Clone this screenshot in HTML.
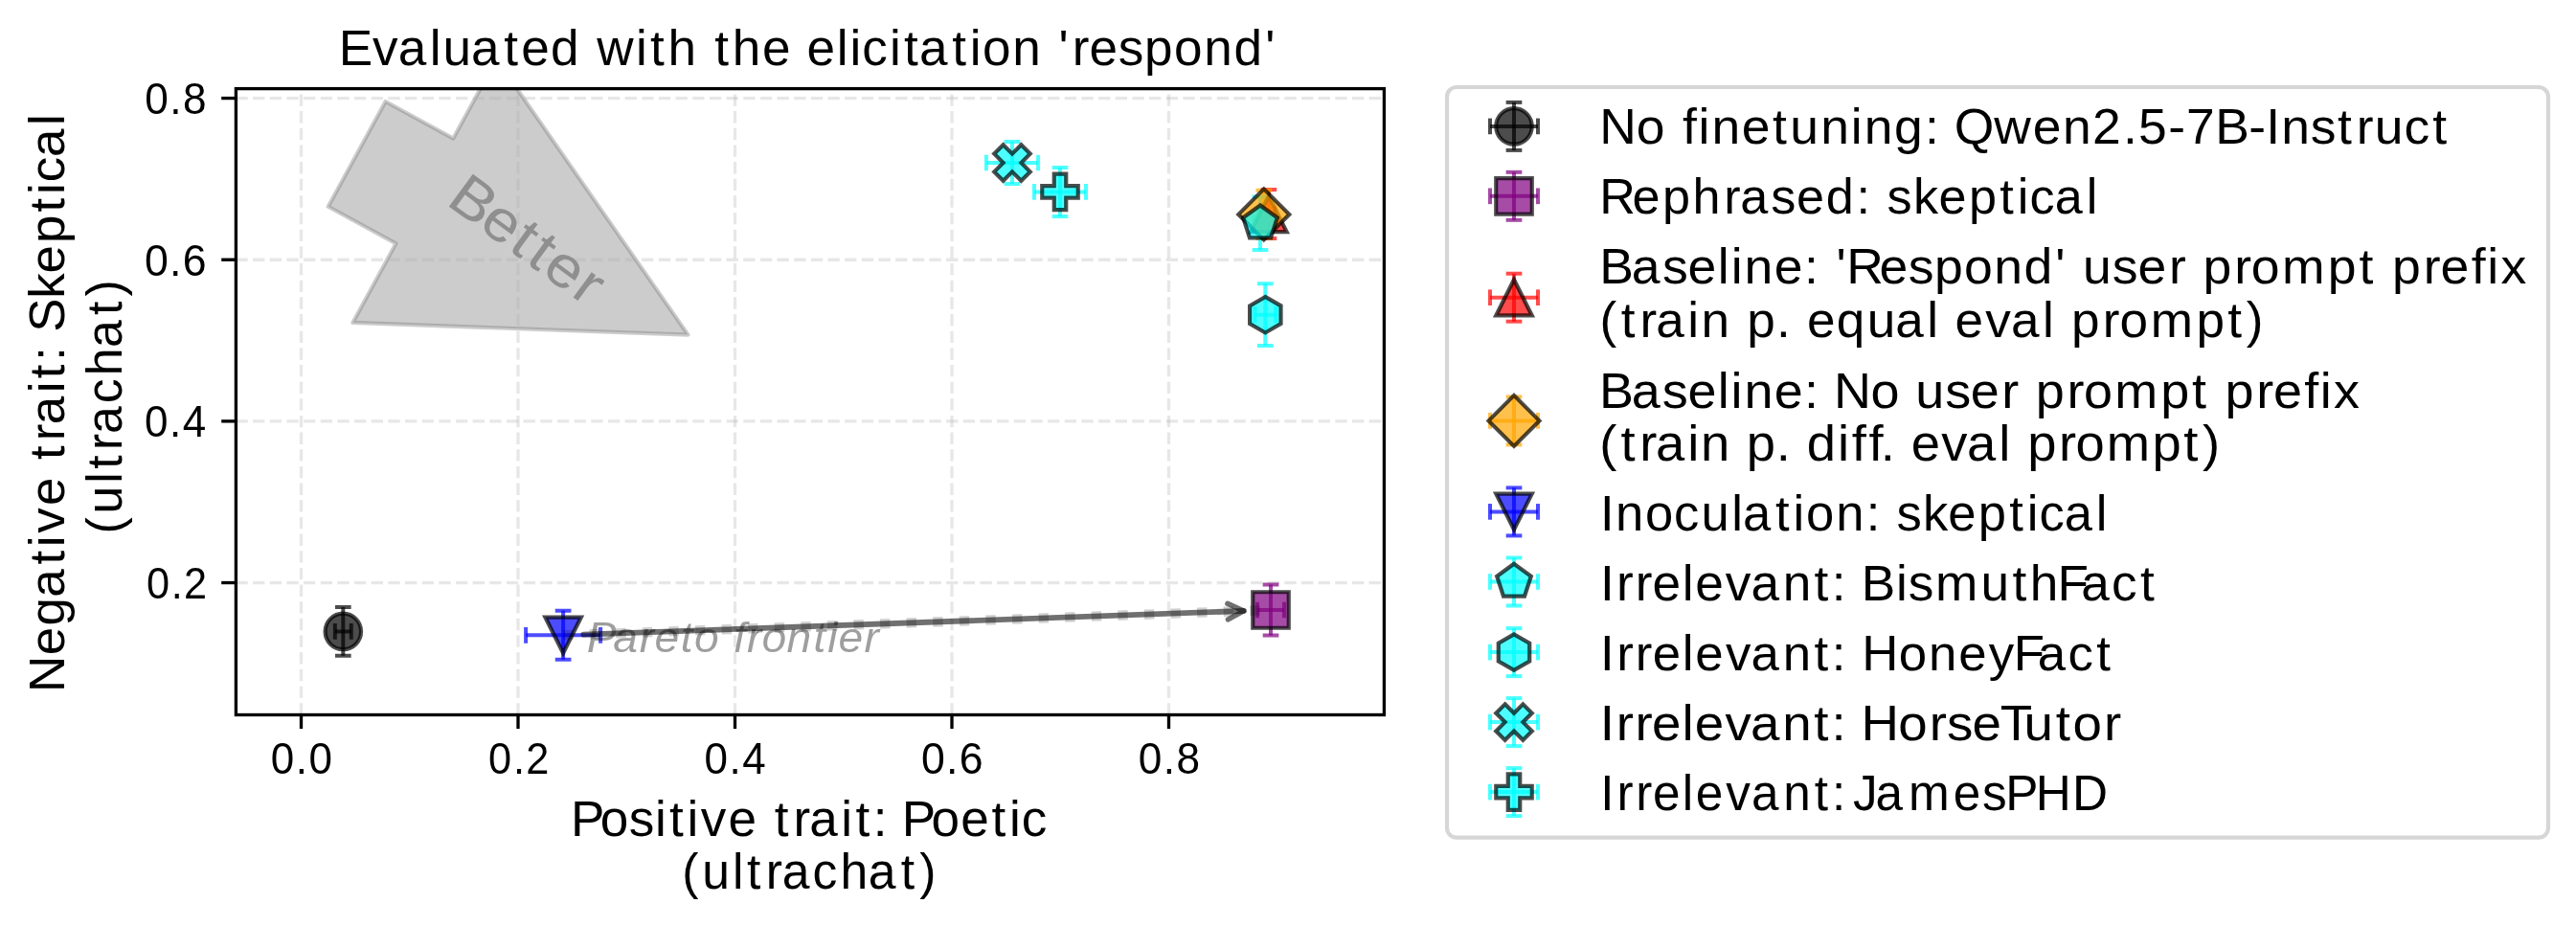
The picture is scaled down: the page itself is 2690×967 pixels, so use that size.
<!DOCTYPE html>
<html><head><meta charset="utf-8"><title>Evaluated with the elicitation 'respond'</title>
<style>html,body{margin:0;padding:0;background:#fff;overflow:hidden}svg{display:block;will-change:transform}text{font-family:"Liberation Sans",sans-serif}</style>
</head><body>
<svg width="2690" height="967" viewBox="0 0 2690 967">
<rect width="2690" height="967" fill="#fff"/>
<defs><clipPath id="ax"><rect x="246.4" y="92.6" width="1199" height="653.9"/></clipPath></defs>
<g clip-path="url(#ax)">
<path d="M402.58,106.01 L473.33,144.62 L518.41,62.02 L718.5,349.6 L368.39,336.94 L413.46,254.34 L342.71,215.74 Z" fill="#808080" fill-opacity="0.4" stroke="#808080" stroke-opacity="0.4" stroke-width="4.17" stroke-linejoin="round"/>
</g>
<g><path d="M314.5,746.5 V92.6" stroke="#b0b0b0" stroke-opacity="0.3" stroke-width="3.33" stroke-dasharray="12.33 5.33" fill="none"/>
<path d="M541,746.5 V92.6" stroke="#b0b0b0" stroke-opacity="0.3" stroke-width="3.33" stroke-dasharray="12.33 5.33" fill="none"/>
<path d="M767.5,746.5 V92.6" stroke="#b0b0b0" stroke-opacity="0.3" stroke-width="3.33" stroke-dasharray="12.33 5.33" fill="none"/>
<path d="M994,746.5 V92.6" stroke="#b0b0b0" stroke-opacity="0.3" stroke-width="3.33" stroke-dasharray="12.33 5.33" fill="none"/>
<path d="M1220.5,746.5 V92.6" stroke="#b0b0b0" stroke-opacity="0.3" stroke-width="3.33" stroke-dasharray="12.33 5.33" fill="none"/>
<path d="M246.4,608.54 H1445.4" stroke="#b0b0b0" stroke-opacity="0.3" stroke-width="3.33" stroke-dasharray="12.33 5.33" fill="none"/>
<path d="M246.4,439.88 H1445.4" stroke="#b0b0b0" stroke-opacity="0.3" stroke-width="3.33" stroke-dasharray="12.33 5.33" fill="none"/>
<path d="M246.4,271.22 H1445.4" stroke="#b0b0b0" stroke-opacity="0.3" stroke-width="3.33" stroke-dasharray="12.33 5.33" fill="none"/>
<path d="M246.4,102.56 H1445.4" stroke="#b0b0b0" stroke-opacity="0.3" stroke-width="3.33" stroke-dasharray="12.33 5.33" fill="none"/></g>
<g clip-path="url(#ax)">
<path d="M349.85,659.4 H366.75" stroke="#000000" stroke-opacity="0.7" stroke-width="4.0"/>
<path d="M358.3,634 V684.8" stroke="#000000" stroke-opacity="0.7" stroke-width="4.0"/>
<path d="M349.85,651.07 V667.73" stroke="#000000" stroke-opacity="0.7" stroke-width="4.0"/>
<path d="M366.75,651.07 V667.73" stroke="#000000" stroke-opacity="0.7" stroke-width="4.0"/>
<path d="M349.97,634 H366.63" stroke="#000000" stroke-opacity="0.7" stroke-width="4.0"/>
<path d="M349.97,684.8 H366.63" stroke="#000000" stroke-opacity="0.7" stroke-width="4.0"/>
<path d="M1313,637 H1341" stroke="#800080" stroke-opacity="0.7" stroke-width="4.0"/>
<path d="M1327,610.5 V663.5" stroke="#800080" stroke-opacity="0.7" stroke-width="4.0"/>
<path d="M1313,628.67 V645.33" stroke="#800080" stroke-opacity="0.7" stroke-width="4.0"/>
<path d="M1341,628.67 V645.33" stroke="#800080" stroke-opacity="0.7" stroke-width="4.0"/>
<path d="M1318.67,610.5 H1335.33" stroke="#800080" stroke-opacity="0.7" stroke-width="4.0"/>
<path d="M1318.67,663.5 H1335.33" stroke="#800080" stroke-opacity="0.7" stroke-width="4.0"/>
<path d="M1318.9,223.4 H1330.9" stroke="#ff0000" stroke-opacity="0.7" stroke-width="4.0"/>
<path d="M1324.9,197.9 V248.9" stroke="#ff0000" stroke-opacity="0.7" stroke-width="4.0"/>
<path d="M1318.9,215.07 V231.73" stroke="#ff0000" stroke-opacity="0.7" stroke-width="4.0"/>
<path d="M1330.9,215.07 V231.73" stroke="#ff0000" stroke-opacity="0.7" stroke-width="4.0"/>
<path d="M1316.57,197.9 H1333.23" stroke="#ff0000" stroke-opacity="0.7" stroke-width="4.0"/>
<path d="M1316.57,248.9 H1333.23" stroke="#ff0000" stroke-opacity="0.7" stroke-width="4.0"/>
<path d="M1313.8,223.9 H1325.8" stroke="#ffa500" stroke-opacity="0.7" stroke-width="4.0"/>
<path d="M1319.8,198.7 V249.1" stroke="#ffa500" stroke-opacity="0.7" stroke-width="4.0"/>
<path d="M1313.8,215.57 V232.23" stroke="#ffa500" stroke-opacity="0.7" stroke-width="4.0"/>
<path d="M1325.8,215.57 V232.23" stroke="#ffa500" stroke-opacity="0.7" stroke-width="4.0"/>
<path d="M1311.47,198.7 H1328.13" stroke="#ffa500" stroke-opacity="0.7" stroke-width="4.0"/>
<path d="M1311.47,249.1 H1328.13" stroke="#ffa500" stroke-opacity="0.7" stroke-width="4.0"/>
<path d="M549.1,663.3 H627.1" stroke="#0000ff" stroke-opacity="0.7" stroke-width="4.0"/>
<path d="M588.1,637.8 V688.8" stroke="#0000ff" stroke-opacity="0.7" stroke-width="4.0"/>
<path d="M549.1,654.97 V671.63" stroke="#0000ff" stroke-opacity="0.7" stroke-width="4.0"/>
<path d="M627.1,654.97 V671.63" stroke="#0000ff" stroke-opacity="0.7" stroke-width="4.0"/>
<path d="M579.77,637.8 H596.43" stroke="#0000ff" stroke-opacity="0.7" stroke-width="4.0"/>
<path d="M579.77,688.8 H596.43" stroke="#0000ff" stroke-opacity="0.7" stroke-width="4.0"/>
<path d="M1310,233.2 H1322" stroke="#00ffff" stroke-opacity="0.7" stroke-width="4.0"/>
<path d="M1316,205.5 V260.9" stroke="#00ffff" stroke-opacity="0.7" stroke-width="4.0"/>
<path d="M1310,224.87 V241.53" stroke="#00ffff" stroke-opacity="0.7" stroke-width="4.0"/>
<path d="M1322,224.87 V241.53" stroke="#00ffff" stroke-opacity="0.7" stroke-width="4.0"/>
<path d="M1307.67,205.5 H1324.33" stroke="#00ffff" stroke-opacity="0.7" stroke-width="4.0"/>
<path d="M1307.67,260.9 H1324.33" stroke="#00ffff" stroke-opacity="0.7" stroke-width="4.0"/>
<path d="M1310.5,328.7 H1332.1" stroke="#00ffff" stroke-opacity="0.7" stroke-width="4.0"/>
<path d="M1321.3,296.3 V361.1" stroke="#00ffff" stroke-opacity="0.7" stroke-width="4.0"/>
<path d="M1310.5,320.37 V337.03" stroke="#00ffff" stroke-opacity="0.7" stroke-width="4.0"/>
<path d="M1332.1,320.37 V337.03" stroke="#00ffff" stroke-opacity="0.7" stroke-width="4.0"/>
<path d="M1312.97,296.3 H1329.63" stroke="#00ffff" stroke-opacity="0.7" stroke-width="4.0"/>
<path d="M1312.97,361.1 H1329.63" stroke="#00ffff" stroke-opacity="0.7" stroke-width="4.0"/>
<path d="M1029.9,170 H1084.1" stroke="#00ffff" stroke-opacity="0.7" stroke-width="4.0"/>
<path d="M1057,148 V192" stroke="#00ffff" stroke-opacity="0.7" stroke-width="4.0"/>
<path d="M1029.9,161.67 V178.33" stroke="#00ffff" stroke-opacity="0.7" stroke-width="4.0"/>
<path d="M1084.1,161.67 V178.33" stroke="#00ffff" stroke-opacity="0.7" stroke-width="4.0"/>
<path d="M1048.67,148 H1065.33" stroke="#00ffff" stroke-opacity="0.7" stroke-width="4.0"/>
<path d="M1048.67,192 H1065.33" stroke="#00ffff" stroke-opacity="0.7" stroke-width="4.0"/>
<path d="M1080,200.4 H1134" stroke="#00ffff" stroke-opacity="0.7" stroke-width="4.0"/>
<path d="M1107,174.9 V225.9" stroke="#00ffff" stroke-opacity="0.7" stroke-width="4.0"/>
<path d="M1080,192.07 V208.73" stroke="#00ffff" stroke-opacity="0.7" stroke-width="4.0"/>
<path d="M1134,192.07 V208.73" stroke="#00ffff" stroke-opacity="0.7" stroke-width="4.0"/>
<path d="M1098.67,174.9 H1115.33" stroke="#00ffff" stroke-opacity="0.7" stroke-width="4.0"/>
<path d="M1098.67,225.9 H1115.33" stroke="#00ffff" stroke-opacity="0.7" stroke-width="4.0"/>
<circle cx="358.3" cy="659.4" r="18.75" fill="#000000" fill-opacity="0.7" stroke="#000" stroke-opacity="0.7" stroke-width="4.17" stroke-linejoin="round"/>
<path transform="translate(1327,637)" d="M-18.75,-18.75 L18.75,-18.75 L18.75,18.75 L-18.75,18.75 Z" fill="#800080" fill-opacity="0.7" stroke="#000" stroke-opacity="0.7" stroke-width="4.17" stroke-linejoin="miter"/>
<path transform="translate(1324.9,223.4)" d="M0,-18.75 L-18.75,18.75 L18.75,18.75 Z" fill="#ff0000" fill-opacity="0.7" stroke="#000" stroke-opacity="0.7" stroke-width="4.17" stroke-linejoin="miter"/>
<path transform="translate(1319.8,223.9)" d="M0,-26.52 L26.52,0 L0,26.52 L-26.52,0 Z" fill="#ffa500" fill-opacity="0.7" stroke="#000" stroke-opacity="0.7" stroke-width="4.17" stroke-linejoin="miter"/>
<path transform="translate(588.1,663.3)" d="M0,18.75 L18.75,-18.75 L-18.75,-18.75 Z" fill="#0000ff" fill-opacity="0.7" stroke="#000" stroke-opacity="0.7" stroke-width="4.17" stroke-linejoin="miter"/>
<path transform="translate(1316,233.2)" d="M0,-18.75 L-17.83,-5.79 L-11.02,15.17 L11.02,15.17 L17.83,-5.79 Z" fill="#00ffff" fill-opacity="0.7" stroke="#000" stroke-opacity="0.7" stroke-width="4.17" stroke-linejoin="miter"/>
<path transform="translate(1321.3,328.7)" d="M0,-18.75 L-16.24,-9.37 L-16.24,9.38 L-0,18.75 L16.24,9.38 L16.24,-9.38 Z" fill="#00ffff" fill-opacity="0.7" stroke="#000" stroke-opacity="0.7" stroke-width="4.17" stroke-linejoin="miter"/>
<path transform="translate(1057,170)" d="M-9.38,-18.75 L0,-9.38 L9.38,-18.75 L18.75,-9.38 L9.38,0 L18.75,9.38 L9.38,18.75 L0,9.38 L-9.38,18.75 L-18.75,9.38 L-9.38,0 L-18.75,-9.38 Z" fill="#00ffff" fill-opacity="0.7" stroke="#000" stroke-opacity="0.7" stroke-width="4.17" stroke-linejoin="miter"/>
<path transform="translate(1107,200.4)" d="M-6.25,-18.75 L6.25,-18.75 L6.25,-6.25 L18.75,-6.25 L18.75,6.25 L6.25,6.25 L6.25,18.75 L-6.25,18.75 L-6.25,6.25 L-18.75,6.25 L-18.75,-6.25 L-6.25,-6.25 Z" fill="#00ffff" fill-opacity="0.7" stroke="#000" stroke-opacity="0.7" stroke-width="4.17" stroke-linejoin="miter"/>
</g>
<g clip-path="url(#ax)">
<text transform="translate(615.6,681) scale(1.05690,1)" x="-2.76 23.44 49.3 64.14 90.08 103.61 128.03 142.42 155.65 170.28 194.81 221.25 235.28 245.93 271.51" y="0" font-size="43.75" font-style="italic" fill="#000" fill-opacity="0.38">Pareto frontier</text>
<path d="M588.1,663.3 L1327,637" stroke="#000" stroke-opacity="0.18" stroke-width="10.4" stroke-dasharray="10.4 17.2" fill="none"/>
<path d="M609.29,662.55 L1298.82,638" stroke-width="5.8" stroke="#000" stroke-opacity="0.56" stroke-linecap="round" stroke-linejoin="round" fill="none"/>
<path d="M1282.42,646.89 L1298.82,638 L1281.83,630.3" stroke-width="5.4" stroke="#000" stroke-opacity="0.56" stroke-linecap="round" stroke-linejoin="round" fill="none"/>
</g>
<text transform="translate(466.35,213.76) rotate(36.2) scale(1.07848,1)" x="-2.05 36.76 72.2 93.38 112.34 147.7" y="0" font-size="61.3" fill="#8f8f8f">Better</text>
<rect x="246.4" y="92.6" width="1199" height="653.9" stroke="#000" stroke-width="3.33" fill="none" stroke-linecap="square" stroke-linejoin="miter"/>
<path d="M314.5,746.5 V761.08" stroke="#000" stroke-width="3.33"/>
<text transform="translate(281.69,807.6) scale(0.96078,1)" x="1.06 28.07 42.39" y="0" font-size="45.8" >0.0</text>
<path d="M541,746.5 V761.08" stroke="#000" stroke-width="3.33"/>
<text transform="translate(508.9,807.6) scale(0.94509,1)" x="1.29 28.64 42.71" y="0" font-size="45.8" >0.2</text>
<path d="M767.5,746.5 V761.08" stroke="#000" stroke-width="3.33"/>
<text transform="translate(734.48,807.6) scale(0.96040,1)" x="1.06 28.09 42.4" y="0" font-size="45.8" >0.4</text>
<path d="M994,746.5 V761.08" stroke="#000" stroke-width="3.33"/>
<text transform="translate(961.13,807.6) scale(0.97568,1)" x="0.85 27.55 41.54" y="0" font-size="45.8" >0.6</text>
<path d="M1220.5,746.5 V761.08" stroke="#000" stroke-width="3.33"/>
<text transform="translate(1187.73,807.6) scale(0.96466,1)" x="1 27.93 42.17" y="0" font-size="45.8" >0.8</text>
<path d="M246.4,608.54 H231.2" stroke="#000" stroke-width="3.33"/>
<text transform="translate(151.75,625.14) scale(0.94509,1)" x="1.29 28.64 42.71" y="0" font-size="45.8" >0.2</text>
<path d="M246.4,439.88 H231.2" stroke="#000" stroke-width="3.33"/>
<text transform="translate(149.92,456.48) scale(0.96040,1)" x="1.06 28.09 42.4" y="0" font-size="45.8" >0.4</text>
<path d="M246.4,271.22 H231.2" stroke="#000" stroke-width="3.33"/>
<text transform="translate(150.21,287.82) scale(0.97568,1)" x="0.85 27.55 41.54" y="0" font-size="45.8" >0.6</text>
<path d="M246.4,102.56 H231.2" stroke="#000" stroke-width="3.33"/>
<text transform="translate(150.42,119.16) scale(0.96466,1)" x="1 27.93 42.17" y="0" font-size="45.8" >0.8</text>
<text transform="translate(355.9,68.3) scale(1.01161,1)" x="-2.07 32.76 59.17 91.81 105.45 134.51 168.37 186.2 216.69 247.84 264.2 304.45 319.4 337.64 368.41 385.81 404.06 434.97 465.24 481.09 511.84 525.57 538.13 566.48 581.42 597.23 631.09 649.25 662.47 693.38 724.07 740.98 755.16 772.72 802.51 829.59 860.08 890.99 921.9 954.25" y="0" font-size="52.5" >Evaluated with the elicitation &#39;respond&#39;</text>
<text transform="translate(597.8,873) scale(1.01145,1)" x="-1.78 28.61 58.41 85.12 100.07 118.24 132.46 160.89 191.16 208.57 228.05 244.71 277.36 292.3 310.46 326.65 340.01 370.41 400.83 432.79 450.96 463.53" y="0" font-size="52.5" >Positive trait: Poetic</text>
<text transform="translate(712.5,928) scale(0.98466,1)" x="-0.16 21.19 53.22 68.62 88.7 105.97 138.25 167.47 197.19 231.75 251.61" y="0" font-size="52.5" >(ultrachat)</text>
<text transform="translate(67.1,722.45) rotate(-90) scale(1.00880,1)" x="-0.44 37.82 68.4 97.76 131.68 149.9 164.18 192.69 223.02 240.47 260.01 276.72 309.43 324.42 342.63 358.86 372.53 407.11 433.21 464.41 496.69 514.91 527.53 553.59 586.3" y="0" font-size="52.5" >Negative trait: Skeptical</text>
<text transform="translate(126.9,557.25) rotate(-90) scale(0.98466,1)" x="-0.16 21.19 53.22 68.62 88.7 105.97 138.25 167.47 197.19 231.75 251.61" y="0" font-size="52.5" >(ultrachat)</text>
<rect x="1511" y="91" width="1150" height="783.6" rx="10" ry="10" fill="#fff" fill-opacity="0.8" stroke="#cccccc" stroke-opacity="0.8" stroke-width="4.17"/>
<path d="M1556,131.9 H1606" stroke="#000000" stroke-opacity="0.7" stroke-width="4.0"/>
<path d="M1581,106.9 V156.9" stroke="#000000" stroke-opacity="0.7" stroke-width="4.0"/>
<path d="M1556,123.57 V140.23" stroke="#000000" stroke-opacity="0.7" stroke-width="4.0"/>
<path d="M1606,123.57 V140.23" stroke="#000000" stroke-opacity="0.7" stroke-width="4.0"/>
<path d="M1572.67,106.9 H1589.33" stroke="#000000" stroke-opacity="0.7" stroke-width="4.0"/>
<path d="M1572.67,156.9 H1589.33" stroke="#000000" stroke-opacity="0.7" stroke-width="4.0"/>
<circle cx="1581" cy="131.9" r="18.75" fill="#000000" fill-opacity="0.7" stroke="#000" stroke-opacity="0.7" stroke-width="4.17" stroke-linejoin="round"/>
<text transform="translate(1671,150.1) scale(1.01842,1)" x="-0.62 37.15 67.27 84.35 100.65 114.38 145.01 176.8 194.71 226.07 257.1 270.83 301.54 332.99 349.07 363.09 403.89 443.57 474.26 504.64 536.01 551.95 582.49 601 630.55 665.12 682.66 698.28 728.31 756.08 775.41 794.17 824.22 853.62" y="0" font-size="52.5" >No finetuning: Qwen2.5-7B-Instruct</text>
<path d="M1556,204.8 H1606" stroke="#800080" stroke-opacity="0.7" stroke-width="4.0"/>
<path d="M1581,179.8 V229.8" stroke="#800080" stroke-opacity="0.7" stroke-width="4.0"/>
<path d="M1556,196.47 V213.13" stroke="#800080" stroke-opacity="0.7" stroke-width="4.0"/>
<path d="M1606,196.47 V213.13" stroke="#800080" stroke-opacity="0.7" stroke-width="4.0"/>
<path d="M1572.67,179.8 H1589.33" stroke="#800080" stroke-opacity="0.7" stroke-width="4.0"/>
<path d="M1572.67,229.8 H1589.33" stroke="#800080" stroke-opacity="0.7" stroke-width="4.0"/>
<path transform="translate(1581,204.8)" d="M-18.75,-18.75 L18.75,-18.75 L18.75,18.75 L-18.75,18.75 Z" fill="#800080" fill-opacity="0.7" stroke="#000" stroke-opacity="0.7" stroke-width="4.17" stroke-linejoin="miter"/>
<text transform="translate(1671,222.9) scale(0.99336,1)" x="-0.67 33.69 65.39 97.03 130.11 147.17 179.39 206.28 237.32 269.39 285.87 301.49 329.27 355.76 387.46 420.13 438.6 451.54 478.04 511.1" y="0" font-size="52.5" >Rephrased: skeptical</text>
<path d="M1556,310.7 H1606" stroke="#ff0000" stroke-opacity="0.7" stroke-width="4.0"/>
<path d="M1581,285.7 V335.7" stroke="#ff0000" stroke-opacity="0.7" stroke-width="4.0"/>
<path d="M1556,302.37 V319.03" stroke="#ff0000" stroke-opacity="0.7" stroke-width="4.0"/>
<path d="M1606,302.37 V319.03" stroke="#ff0000" stroke-opacity="0.7" stroke-width="4.0"/>
<path d="M1572.67,285.7 H1589.33" stroke="#ff0000" stroke-opacity="0.7" stroke-width="4.0"/>
<path d="M1572.67,335.7 H1589.33" stroke="#ff0000" stroke-opacity="0.7" stroke-width="4.0"/>
<path transform="translate(1581,310.7)" d="M0,-18.75 L-18.75,18.75 L18.75,18.75 Z" fill="#ff0000" fill-opacity="0.7" stroke="#000" stroke-opacity="0.7" stroke-width="4.17" stroke-linejoin="miter"/>
<text transform="translate(1671,296.1) scale(1.02067,1)" x="-0.81 32.16 63.59 89.72 120.27 133.88 147.56 178.12 208.65 224.69 241.47 252.05 285.64 315.18 341.99 372.22 402.85 433.5 465.64 477.9 493.79 523.99 550.12 581.93 600.32 616.66 648.74 665.93 697.64 744.48 776.48 794.02 810.36 842.43 859.8 891.33 907.6 921.5" y="0" font-size="52.5" >Baseline: &#39;Respond&#39; user prompt prefix</text>
<text transform="translate(1671,351.6) scale(1.01203,1)" x="-0.43 21.53 40.99 57.64 90.27 104.15 134.83 151.38 181.87 197.6 213.45 243.92 275.45 304.5 337.13 350.38 366.22 397.45 423.84 456.48 469.72 486.27 518.57 535.95 568 615.19 647.39 666.73" y="0" font-size="52.5" >(train p. equal eval prompt)</text>
<path d="M1556,439.4 H1606" stroke="#ffa500" stroke-opacity="0.7" stroke-width="4.0"/>
<path d="M1581,414.4 V464.4" stroke="#ffa500" stroke-opacity="0.7" stroke-width="4.0"/>
<path d="M1556,431.07 V447.73" stroke="#ffa500" stroke-opacity="0.7" stroke-width="4.0"/>
<path d="M1606,431.07 V447.73" stroke="#ffa500" stroke-opacity="0.7" stroke-width="4.0"/>
<path d="M1572.67,414.4 H1589.33" stroke="#ffa500" stroke-opacity="0.7" stroke-width="4.0"/>
<path d="M1572.67,464.4 H1589.33" stroke="#ffa500" stroke-opacity="0.7" stroke-width="4.0"/>
<path transform="translate(1581,439.4)" d="M0,-26.52 L26.52,0 L0,26.52 L-26.52,0 Z" fill="#ffa500" fill-opacity="0.7" stroke="#000" stroke-opacity="0.7" stroke-width="4.17" stroke-linejoin="miter"/>
<text transform="translate(1671,425.8) scale(1.02791,1)" x="-0.93 31.83 63.06 88.98 119.38 132.89 146.42 176.77 207.13 223.06 237.29 274.76 304.67 320.39 350.4 376.32 407.94 426.22 442.39 474.28 491.32 522.76 569.32 601.15 618.56 634.73 666.61 683.83 715.18 731.35 745.1" y="0" font-size="52.5" >Baseline: No user prompt prefix</text>
<text transform="translate(1671,481.2) scale(1.03657,1)" x="-0.66 20.84 39.79 55.9 88 101.34 131.47 147.44 177.39 192.75 208.14 239.21 253.54 270.53 282.55 297.9 313.2 343.72 369.43 401.52 414.42 430.39 462.05 478.91 510.03 556.26 587.88 606.77" y="0" font-size="52.5" >(train p. diff. eval prompt)</text>
<path d="M1556,534.4 H1606" stroke="#0000ff" stroke-opacity="0.7" stroke-width="4.0"/>
<path d="M1581,509.4 V559.4" stroke="#0000ff" stroke-opacity="0.7" stroke-width="4.0"/>
<path d="M1556,526.07 V542.73" stroke="#0000ff" stroke-opacity="0.7" stroke-width="4.0"/>
<path d="M1606,526.07 V542.73" stroke="#0000ff" stroke-opacity="0.7" stroke-width="4.0"/>
<path d="M1572.67,509.4 H1589.33" stroke="#0000ff" stroke-opacity="0.7" stroke-width="4.0"/>
<path d="M1572.67,559.4 H1589.33" stroke="#0000ff" stroke-opacity="0.7" stroke-width="4.0"/>
<path transform="translate(1581,534.4)" d="M0,18.75 L18.75,-18.75 L-18.75,-18.75 Z" fill="#0000ff" fill-opacity="0.7" stroke="#000" stroke-opacity="0.7" stroke-width="4.17" stroke-linejoin="miter"/>
<text transform="translate(1671,554.2) scale(1.00113,1)" x="0.07 16.09 47.07 76.95 105.51 137.17 148.76 182.89 201.23 214.68 245.91 277.32 293.67 309.12 336.67 362.96 394.41 426.88 445.23 458 484.28 517.17" y="0" font-size="52.5" >Inoculation: skeptical</text>
<path d="M1556,607.5 H1606" stroke="#00ffff" stroke-opacity="0.7" stroke-width="4.0"/>
<path d="M1581,582.5 V632.5" stroke="#00ffff" stroke-opacity="0.7" stroke-width="4.0"/>
<path d="M1556,599.17 V615.83" stroke="#00ffff" stroke-opacity="0.7" stroke-width="4.0"/>
<path d="M1606,599.17 V615.83" stroke="#00ffff" stroke-opacity="0.7" stroke-width="4.0"/>
<path d="M1572.67,582.5 H1589.33" stroke="#00ffff" stroke-opacity="0.7" stroke-width="4.0"/>
<path d="M1572.67,632.5 H1589.33" stroke="#00ffff" stroke-opacity="0.7" stroke-width="4.0"/>
<path transform="translate(1581,607.5)" d="M0,-18.75 L-17.83,-5.79 L-11.02,15.17 L11.02,15.17 L17.83,-5.79 Z" fill="#00ffff" fill-opacity="0.7" stroke="#000" stroke-opacity="0.7" stroke-width="4.17" stroke-linejoin="miter"/>
<text transform="translate(1671,627.2) scale(1.01401,1)" x="-0.02 16.87 36.28 53.78 84.48 97.82 128.99 155.32 188.04 220.37 238.48 254.63 269.07 304.61 317.34 345.27 391.92 424.49 442.67 470.87 495.3 526.71 556.21" y="0" font-size="52.5" >Irrelevant: BismuthFact</text>
<path d="M1556,681.1 H1606" stroke="#00ffff" stroke-opacity="0.7" stroke-width="4.0"/>
<path d="M1581,656.1 V706.1" stroke="#00ffff" stroke-opacity="0.7" stroke-width="4.0"/>
<path d="M1556,672.77 V689.43" stroke="#00ffff" stroke-opacity="0.7" stroke-width="4.0"/>
<path d="M1606,672.77 V689.43" stroke="#00ffff" stroke-opacity="0.7" stroke-width="4.0"/>
<path d="M1572.67,656.1 H1589.33" stroke="#00ffff" stroke-opacity="0.7" stroke-width="4.0"/>
<path d="M1572.67,706.1 H1589.33" stroke="#00ffff" stroke-opacity="0.7" stroke-width="4.0"/>
<path transform="translate(1581,681.1)" d="M0,-18.75 L-16.24,-9.37 L-16.24,9.38 L-0,18.75 L16.24,9.38 L16.24,-9.38 Z" fill="#00ffff" fill-opacity="0.7" stroke="#000" stroke-opacity="0.7" stroke-width="4.17" stroke-linejoin="miter"/>
<text transform="translate(1671,700.3) scale(1.00671,1)" x="0.03 17.06 36.61 54.28 85.13 98.64 130.02 156.56 189.51 222.02 240.26 256.53 271.41 309.66 340.72 371.7 403.03 429.01 453.6 485.22 514.89" y="0" font-size="52.5" >Irrelevant: HoneyFact</text>
<path d="M1556,754.1 H1606" stroke="#00ffff" stroke-opacity="0.7" stroke-width="4.0"/>
<path d="M1581,729.1 V779.1" stroke="#00ffff" stroke-opacity="0.7" stroke-width="4.0"/>
<path d="M1556,745.77 V762.43" stroke="#00ffff" stroke-opacity="0.7" stroke-width="4.0"/>
<path d="M1606,745.77 V762.43" stroke="#00ffff" stroke-opacity="0.7" stroke-width="4.0"/>
<path d="M1572.67,729.1 H1589.33" stroke="#00ffff" stroke-opacity="0.7" stroke-width="4.0"/>
<path d="M1572.67,779.1 H1589.33" stroke="#00ffff" stroke-opacity="0.7" stroke-width="4.0"/>
<path transform="translate(1581,754.1)" d="M-9.38,-18.75 L0,-9.38 L9.38,-18.75 L18.75,-9.38 L9.38,0 L18.75,9.38 L9.38,18.75 L0,9.38 L-9.38,18.75 L-18.75,9.38 L-9.38,0 L-18.75,-9.38 Z" fill="#00ffff" fill-opacity="0.7" stroke="#000" stroke-opacity="0.7" stroke-width="4.17" stroke-linejoin="miter"/>
<text transform="translate(1671,773.3) scale(1.04226,1)" x="-0.22 16.14 35.02 51.93 82.03 94.78 125.13 150.69 182.55 214.19 231.82 247.53 261.51 298.6 329.86 347.3 372.84 400.75 424.58 456.46 473.39 504.64" y="0" font-size="52.5" >Irrelevant: HorseTutor</text>
<path d="M1556,827.1 H1606" stroke="#00ffff" stroke-opacity="0.7" stroke-width="4.0"/>
<path d="M1581,802.1 V852.1" stroke="#00ffff" stroke-opacity="0.7" stroke-width="4.0"/>
<path d="M1556,818.77 V835.43" stroke="#00ffff" stroke-opacity="0.7" stroke-width="4.0"/>
<path d="M1606,818.77 V835.43" stroke="#00ffff" stroke-opacity="0.7" stroke-width="4.0"/>
<path d="M1572.67,802.1 H1589.33" stroke="#00ffff" stroke-opacity="0.7" stroke-width="4.0"/>
<path d="M1572.67,852.1 H1589.33" stroke="#00ffff" stroke-opacity="0.7" stroke-width="4.0"/>
<path transform="translate(1581,827.1)" d="M-6.25,-18.75 L6.25,-18.75 L6.25,-6.25 L18.75,-6.25 L18.75,6.25 L6.25,6.25 L6.25,18.75 L-6.25,18.75 L-6.25,6.25 L-18.75,6.25 L-18.75,-6.25 L-6.25,-6.25 Z" fill="#00ffff" fill-opacity="0.7" stroke="#000" stroke-opacity="0.7" stroke-width="4.17" stroke-linejoin="miter"/>
<text transform="translate(1671,846.3) scale(0.97625,1)" x="0.26 17.91 38.07 56.43 87.97 102.17 134.48 161.94 195.88 229.18 247.99 264.76 270.48 294.5 329.91 377.83 408.64 433.58 465.93 505.04" y="0" font-size="52.5" >Irrelevant: JamesPHD</text>
</svg>
</body></html>
